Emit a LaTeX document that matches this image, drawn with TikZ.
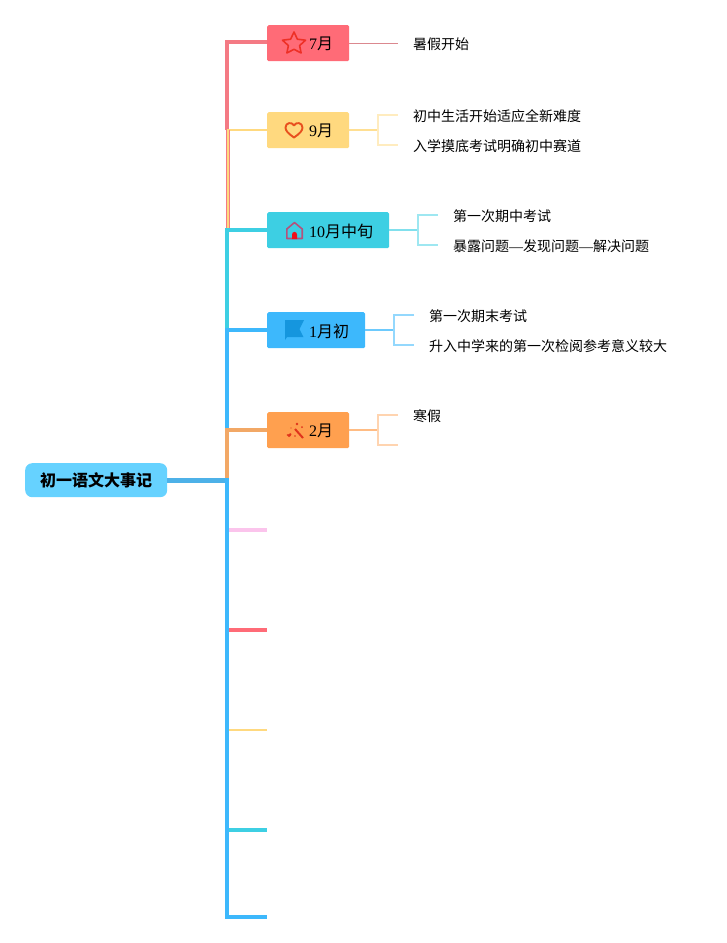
\documentclass[tikz,border=0pt]{standalone}
\usepackage{fontspec}
\setmainfont{Liberation Serif}
\newfontfamily\cjk{Noto Sans CJK SC}
\definecolor{cRed}{HTML}{FF6B77}
\definecolor{cSpR}{HTML}{F47A84}
\definecolor{cYel}{HTML}{FFD97F}
\definecolor{cCya}{HTML}{3DCFE3}
\definecolor{cBlu}{HTML}{3DB8FC}
\definecolor{cOra}{HTML}{FFA04F}
\definecolor{cSpO}{HTML}{F2A866}
\definecolor{cPin}{HTML}{FBC4EC}
\definecolor{cRoot}{HTML}{66D2FF}
\definecolor{cTrunk}{HTML}{4DB1E8}
\definecolor{cFlag}{HTML}{1596DE}
\definecolor{cHouse}{HTML}{B4527C}
\definecolor{cHeart}{HTML}{E8501E}
\definecolor{cStar}{HTML}{EE3026}
\definecolor{cWand}{HTML}{E0341C}
\tikzset{
 x=1pt,y=-1pt,
 mbox/.style={anchor=north west,minimum height=36pt,inner sep=0pt,rounded corners=1.5pt,font=\fontsize{16}{16}\selectfont},
 mlabel/.style={anchor=west,inner sep=0pt,font=\fontsize{16}{16}\selectfont},
 sub/.style={anchor=west,inner sep=0pt,font=\cjk\fontsize{14}{14}\selectfont},
 wire/.style={line join=miter},
 icon/.style={line width=1.6pt,line join=round},
}
\begin{document}
\begin{tikzpicture}
\useasboundingbox (0,0) rectangle (727,943);
% root and month boxes
\node[anchor=north west,fill=cRoot,rounded corners=7pt,minimum width=142pt,minimum height=34pt,inner sep=0pt,font=\cjk\bfseries\fontsize{16}{16}\selectfont] (root) at (25,463) {初一语文大事记};
\node[mbox,fill=cRed,minimum width=82pt] (m7) at (267,25) {};
\node[mbox,fill=cYel,minimum width=82pt] (m9) at (267,112) {};
\node[mbox,fill=cCya,minimum width=122pt] (m10) at (267,212) {};
\node[mbox,fill=cBlu,minimum width=98pt] (m1) at (267,312) {};
\node[mbox,fill=cOra,minimum width=82pt] (m2) at (267,412) {};
\node[mlabel] (l7) at (309,43.5) {7{\cjk\fontsize{16}{16}\selectfont 月}};
\node[mlabel] (l9) at (309,130.5) {9{\cjk\fontsize{16}{16}\selectfont 月}};
\node[mlabel] (l10) at (309,231) {10{\cjk\fontsize{16}{16}\selectfont 月中旬}};
\node[mlabel] (l1) at (309,331) {1{\cjk\fontsize{16}{16}\selectfont 月初}};
\node[mlabel] (l2) at (309,431) {2{\cjk\fontsize{16}{16}\selectfont 月}};
% sub texts
\node[sub] (t71) at (413,44) {暑假开始};
\node[sub] (t91) at (413,116) {初中生活开始适应全新难度};
\node[sub] (t92) at (413,146) {入学摸底考试明确初中赛道};
\node[sub] (t101) at (453,216) {第一次期中考试};
\node[sub] (t102) at (453,246) {暴露问题{\fontfamily{\rmdefault}\selectfont —}发现问题{\fontfamily{\rmdefault}\selectfont —}解决问题};
\node[sub] (t11) at (429,316) {第一次期末考试};
\node[sub] (t12) at (429,346) {升入中学来的第一次检阅参考意义较大};
\node[sub] (t21) at (413,416) {寒假};
% coordinates
\coordinate (sT) at (227,480);
\coordinate (s7) at (227,42);
\coordinate (s9) at (228,129.5);
\coordinate (s10) at (227,230);
\coordinate (s1) at (227,330);
\coordinate (s2) at (227,430);
\coordinate (e5) at (267,530);
\coordinate (e6) at (267,630);
\coordinate (e7) at (267,730);
\coordinate (e8) at (267,830);
\coordinate (e9) at (267,917);
\coordinate (s5) at (229,530);
\coordinate (s6) at (229,630);
\coordinate (s7b) at (229,730);
\coordinate (s8) at (229,830);
\coordinate (s9b) at (227,917);
\coordinate (s7e) at (398,43);
\coordinate (b9) at (378,130);
\coordinate (b10) at (418,230);
\coordinate (b1) at (394,330);
\coordinate (b2) at (378,430);
\coordinate (c91) at (398,115);\coordinate (c92) at (398,145);
\coordinate (c101) at (438,215);\coordinate (c102) at (438,245);
\coordinate (c11) at (414,315);\coordinate (c12) at (414,345);
\coordinate (c21) at (398,415);\coordinate (c22) at (398,445);
% spine pieces
\draw[wire,cSpR,line width=4.5pt] (m7.west|-s7) -- (s7) -- (227,130);
\draw[wire,cSpR,line width=1pt] (226,130) -- (226,230);
\draw[wire,cYel,line width=2pt] (m9.west|-s9) -- (s9) -- (228,230);
\draw[wire,cSpR,line width=.8pt] (229.5,130) -- (229.5,230);
\draw[wire,cCya,line width=4.5pt] (m10.west|-s10) -- (s10) -- (227,330);
\draw[wire,cBlu,line width=4.5pt] (m1.west|-s1) -- (s1) -- (227,432);
\draw[wire,cSpO,line width=4.5pt] (m2.west|-s2) -- (s2) -- (227,478);
\draw[wire,cTrunk,line width=5pt] (root.east|-sT) -- (229,480);
\draw[wire,cBlu,line width=4.5pt] (227,478) -- (s9b) -- (e9);
\draw[cPin,line width=3.5pt] (s5) -- (e5);
\draw[cRed,line width=4pt] (s6) -- (e6);
\draw[cYel,line width=2pt] (s7b) -- (e7);
\draw[cCya,line width=4pt] (s8) -- (e8);
% second-level connectors
\draw[cRed!80!black!70!white,line width=.8pt] (m7.east|-s7e) -- (s7e);
\draw[cYel!85!white,line width=2pt] (m9.east|-b9) -- (b9);
\draw[cYel!50!white,line width=1.5pt] (c91) -| (b9) |- (c92);
\draw[cCya!65!white,line width=2pt] (m10.east|-b10) -- (b10);
\draw[cCya!50!white,line width=1.5pt] (c101) -| (b10) |- (c102);
\draw[cBlu!75!white,line width=2pt] (m1.east|-b1) -- (b1);
\draw[cBlu!55!white,line width=1.5pt] (c11) -| (b1) |- (c12);
\draw[cOra!70!white,line width=2pt] (m2.east|-b2) -- (b2);
\draw[cOra!45!white,line width=1.5pt] (c21) -| (b2) |- (c22);
% icons
\draw[icon,draw=cStar] (294,32) -- (297.4,39.2) -- (305.5,40.2) -- (299.6,45.6) -- (301.1,53) -- (294,49.3) -- (286.9,53) -- (288.4,45.6) -- (282.5,40.2) -- (290.6,39.2) -- cycle;
\draw[icon,line width=1.9pt,draw=cHeart] (294,137.5) .. controls (288,133.5) and (285.5,130.5) .. (285.5,127.5) .. controls (285.5,122.5) and (292,121.5) .. (294,125.5) .. controls (296,121.5) and (302.5,122.5) .. (302.5,127.5) .. controls (302.5,130.5) and (300,133.5) .. (294,137.5) -- cycle;
\draw[icon,draw=cHouse] (286.8,238.5) -- (286.8,229) -- (294.5,222.5) -- (302.2,229) -- (302.2,238.5) -- cycle;
\fill[red!80!cHouse] (292,239) -- (292,234.5) .. controls (292,231) and (297,231) .. (297,234.5) -- (297,239) -- cycle;
\fill[cFlag] (285,320) -- (304,320) -- (299.5,329) -- (303.5,337) -- (287,337) -- (285,340) -- cycle;
\draw[cWand,line width=2pt] (295,429) -- (303,438);
\fill[cWand] (289,434.5) -- (290,433) -- (291.5,434) -- (290.5,436) -- (289,437) -- (288,436) -- (286.5,435) -- (288,434) -- cycle;
\fill[cWand] (297,424) circle (1.3) (302,427) circle (1) (295,436) circle (.9) (291,428) circle (.7);
\end{tikzpicture}
\end{document}
